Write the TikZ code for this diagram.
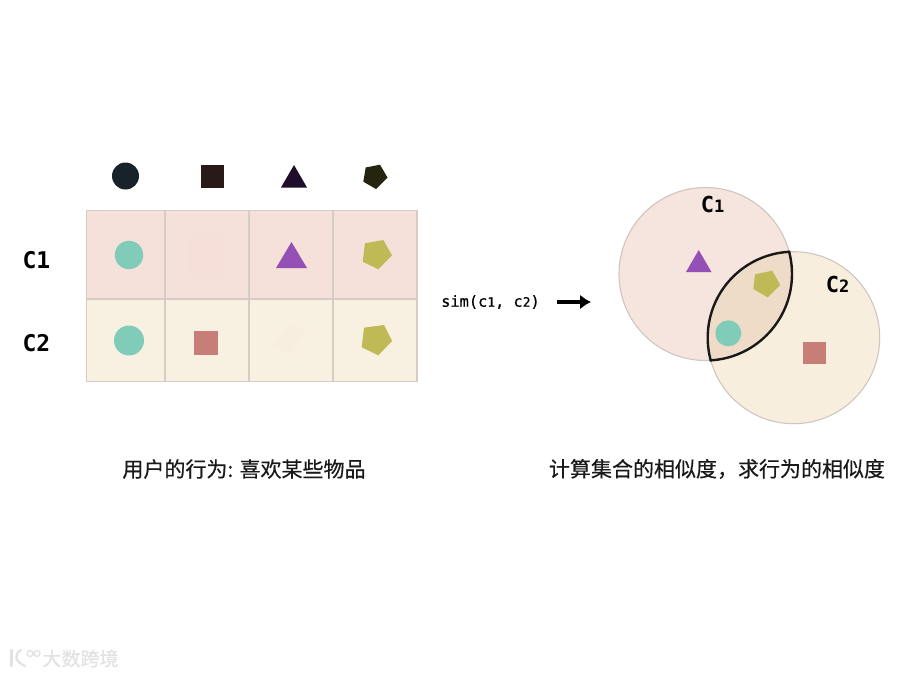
\documentclass[tikz,border=0pt]{standalone}
\usepackage{fontspec}
\usetikzlibrary{arrows.meta}
\newfontfamily\cjk[FakeBold=0.5]{Noto Sans CJK SC}
\newfontfamily\monof{DejaVu Sans Mono}
\newfontfamily\monom[FakeBold=0.5]{DejaVu Sans Mono}
\definecolor{rowa}{HTML}{F6E0DA}
\definecolor{rowb}{HTML}{F8F0E1}
\definecolor{venna}{HTML}{F6E4DF}
\definecolor{vennb}{HTML}{F8EEDD}
\definecolor{grid}{HTML}{D6CCC6}
\definecolor{mint}{HTML}{81CCB9}
\definecolor{violet}{HTML}{9450B5}
\definecolor{olive}{HTML}{BFB956}
\definecolor{rose}{HTML}{C77E76}
\definecolor{lens}{HTML}{EFDCC8}
\definecolor{ringc}{HTML}{CFC6BF}
\definecolor{inka}{HTML}{17222A}
\definecolor{inkb}{HTML}{291A18}
\definecolor{inkc}{HTML}{1F0E2B}
\definecolor{inkd}{HTML}{25240F}
\definecolor{wm}{HTML}{E2E2E2}
\definecolor{fainta}{HTML}{F6DFD9}
\definecolor{faintb}{HTML}{F8EEDF}
\tikzset{
  cellbox/.style={draw=grid,line width=1.2pt},
  ring/.style={draw=ringc,line width=1.1pt},
  lensline/.style={line width=2.4pt,black!90},
  lbl/.style={inner sep=0pt,font=\monof\bfseries\fontsize{23}{23}\selectfont},
  vlbl/.style={inner sep=0pt,font=\monof\bfseries\fontsize{22}{22}\selectfont},
  captext/.style={inner sep=0pt,font=\cjk\fontsize{21}{24}\selectfont,text=black!90},
  mono/.style={inner sep=0pt,font=\monom\fontsize{15.3}{16}\selectfont},
  wmtext/.style={inner sep=0pt,font=\cjk\fontsize{19}{20}\selectfont,text=wm}
}
\begin{document}
\begin{tikzpicture}[x=1pt,y=-1pt]
\useasboundingbox (0,0) rectangle (900,675);
\fill[white] (0,0) rectangle (900,675);
% top legend
\fill[inka] (125.5,176) circle (13.5);
\fill[inkb] (200.5,164.5) rectangle (223.5,187.5);
\fill[inkc] (294,165) -- (307,187.5) -- (281,187.5) -- cycle;
\fill[inkd] (365.7,167.5) -- (380,164.7) -- (387.5,177.5) -- (376,189) -- (363.3,181.7) -- cycle;
% table
\fill[rowa] (86.5,210.5) rectangle (417,299);
\fill[rowb] (86.5,299) rectangle (417,381.7);
\draw[cellbox] (86.5,210.5) rectangle (417,381.7);
\draw[cellbox] (86.5,299) -- (417,299);
\foreach \cx in {165,249,333} \draw[cellbox] (\cx,210.5) -- (\cx,381.7);
% faint marks
\fill[fainta] (188,238) rectangle (223,274);
\fill[faintb] (272,346) -- (283,332) -- (293,326) -- (307,332) -- (296,342) -- (290,354) -- cycle;
% row 1 shapes
\fill[mint] (129,255) circle (14.2);
\fill[violet] (291.5,242) -- (307,268) -- (276,268) -- cycle;
\fill[olive] (365,243.3) -- (383.3,240) -- (392,255.3) -- (378.3,269.3) -- (362.7,261.7) -- cycle;
% row 2 shapes
\fill[mint] (129,340.5) circle (15);
\fill[rose] (194,331) rectangle (217.7,354.7);
\fill[olive] (364,327.7) -- (384,325) -- (392,341) -- (378.3,355.3) -- (361.7,347.3) -- cycle;
% row labels
\node[lbl] (c1) at (36.5,260) {C1};
\node[lbl] (c2) at (36.5,343.5) {C2};
% middle
\node[mono] (sim) at (490.5,302) {sim(c\fontsize{13}{16}\selectfont 1\fontsize{15.3}{16}\selectfont, c\fontsize{13}{16}\selectfont 2\fontsize{15.3}{16}\selectfont)};
\coordinate (arrA) at (557,302);
\coordinate (arrB) at (591,302);
\draw[line width=3.5pt,-{Latex[length=11pt,width=15pt]}] (arrA) -- (arrB);
% venn
\fill[venna] (705.5,274) circle (86.5);
\fill[vennb] (793.7,337.7) circle (86);
\begin{scope}
  \clip (705.5,274) circle (86.5);
  \fill[lens] (793.7,337.7) circle (86);
\end{scope}
\draw[ring] (705.5,274) circle (86.5);
\draw[ring] (793.7,337.7) circle (86);
\begin{scope}
  \clip (705.5,274) circle (87.5);
  \draw[lensline] (793.7,337.7) circle (86);
\end{scope}
\begin{scope}
  \clip (793.7,337.7) circle (87);
  \draw[lensline] (705.5,274) circle (86.5);
\end{scope}
\fill[violet] (698.7,250) -- (711.5,272) -- (686,272) -- cycle;
\fill[olive] (755,274.3) -- (772.3,270.7) -- (780.3,285) -- (767.7,297.3) -- (753.3,289) -- cycle;
\fill[mint] (728.3,333.3) circle (13);
\fill[rose] (803.3,342) rectangle (825.7,364);
\node[vlbl] (v1) at (712.5,204.5) {C\fontsize{17}{22}\selectfont 1};
\node[vlbl] (v2) at (837.5,284.5) {C\fontsize{17}{22}\selectfont 2};
% captions
\node[captext] (capL) at (244,469) {用户的行为: 喜欢某些物品};
\node[captext] (capR) at (717,469) {计算集合的相似度，求行为的相似度};
% watermark
\node[wmtext] (wm) at (80.5,658.5) {大数跨境};
\draw[wm,line width=2.2pt,line cap=round] (11.5,650) -- (11.5,666);
\draw[wm,line width=2.2pt,line cap=round] (21,650) .. controls (14,654) and (14,661) .. (25,666);
\draw[wm,line width=1.3pt] (30,653.5) circle (3) (37,653.5) circle (3);
\end{tikzpicture}
\end{document}
